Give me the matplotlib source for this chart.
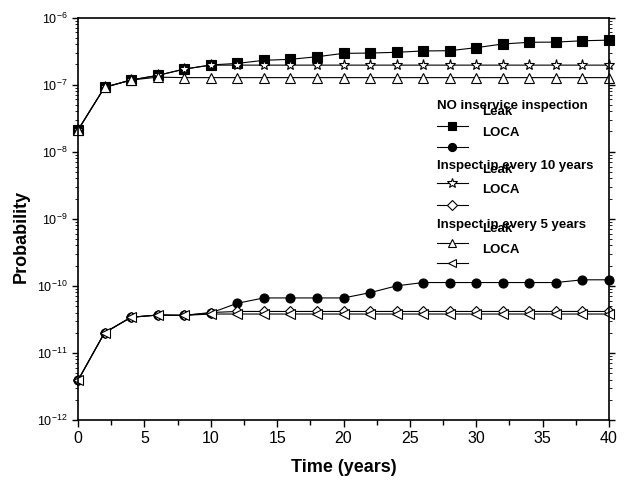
import numpy as np
import matplotlib
matplotlib.use('Agg')
import matplotlib.pyplot as plt
from matplotlib.ticker import LogLocator, NullFormatter, MultipleLocator

plt.rcParams['font.family'] = ['Liberation Sans', 'DejaVu Sans']
plt.rcParams['mathtext.fontset'] = 'custom'
plt.rcParams['mathtext.rm'] = 'Liberation Sans'
plt.rcParams['mathtext.it'] = 'Liberation Sans'

# time axis (years)
years = list(range(0, 41, 2))

# no inservice inspection
leak_none = [2.1e-8, 9.1e-8, 1.17e-7, 1.37e-7, 1.7e-7, 1.96e-7, 2.07e-7, 2.3e-7, 2.38e-7, 2.6e-7,
             2.92e-7, 2.95e-7, 3.03e-7, 3.17e-7, 3.2e-7, 3.55e-7, 4.03e-7, 4.27e-7, 4.3e-7, 4.5e-7, 4.6e-7]
loca_none = [3.9e-12, 2.0e-11, 3.4e-11, 3.67e-11, 3.63e-11, 3.94e-11, 5.5e-11, 6.6e-11, 6.6e-11, 6.6e-11,
             6.6e-11, 7.9e-11, 1.0e-10, 1.12e-10, 1.12e-10, 1.12e-10, 1.12e-10, 1.12e-10, 1.12e-10, 1.23e-10, 1.23e-10]

# inspect every 10 years
leak_10 = [2.1e-8, 9.1e-8, 1.17e-7, 1.37e-7, 1.7e-7, 1.95e-7, 1.95e-7, 1.95e-7, 1.95e-7, 1.95e-7,
           1.95e-7, 1.95e-7, 1.95e-7, 1.95e-7, 1.95e-7, 1.95e-7, 1.95e-7, 1.95e-7, 1.95e-7, 1.95e-7, 1.95e-7]
loca_10 = [3.9e-12, 2.0e-11, 3.4e-11, 3.67e-11, 3.63e-11, 4.0e-11, 4.15e-11, 4.15e-11, 4.15e-11, 4.15e-11,
           4.15e-11, 4.15e-11, 4.15e-11, 4.15e-11, 4.15e-11, 4.15e-11, 4.15e-11, 4.15e-11, 4.15e-11, 4.15e-11, 4.15e-11]

# inspect every 5 years
leak_5 = [2.1e-8, 9.1e-8, 1.17e-7, 1.29e-7, 1.27e-7, 1.27e-7, 1.27e-7, 1.27e-7, 1.27e-7, 1.27e-7,
          1.27e-7, 1.27e-7, 1.27e-7, 1.27e-7, 1.27e-7, 1.27e-7, 1.27e-7, 1.27e-7, 1.27e-7, 1.27e-7, 1.27e-7]
loca_5 = [3.9e-12, 2.0e-11, 3.4e-11, 3.67e-11, 3.63e-11, 3.8e-11, 3.8e-11, 3.8e-11, 3.8e-11, 3.8e-11,
          3.8e-11, 3.8e-11, 3.8e-11, 3.8e-11, 3.8e-11, 3.8e-11, 3.8e-11, 3.8e-11, 3.8e-11, 3.8e-11, 3.8e-11]

groups = ["NO inservice inspection", "Inspect in every 10 years", "Inspect in every 5 years"]
series = [(leak_none, 's', 'black'), (loca_none, 'o', 'black'),
          (leak_10, '*', 'white'), (loca_10, 'D', 'white'),
          (leak_5, '^', 'white'), (loca_5, '<', 'white')]
msizes = {'s': 6.5, 'o': 6.5, '*': 8, 'D': 5.5, '^': 7, '<': 7}

W, H = 628, 484
fig = plt.figure(figsize=(W / 100, H / 100), dpi=100)
ax = fig.add_axes([78 / W, 1 - 420 / H, 531 / W, 402.5 / H])

for vals, mk, fc in series:
    ax.plot(years, vals, '-', color='black', lw=0.8, marker=mk, markersize=msizes[mk],
            markerfacecolor=fc, markeredgecolor='black', markeredgewidth=0.8, clip_on=False)

ax.set_yscale('log')
ax.set_xlim(0, 40)
ax.set_ylim(1e-12, 1e-6)
ax.xaxis.set_major_locator(MultipleLocator(5))
ax.xaxis.set_minor_locator(MultipleLocator(2.5))
ax.yaxis.set_major_locator(LogLocator(base=10, numticks=10))
ax.yaxis.set_minor_locator(LogLocator(base=10, subs=np.arange(2, 10), numticks=10))
ax.yaxis.set_minor_formatter(NullFormatter())

ax.tick_params(axis='x', which='major', labelsize=11.5, direction='out', length=5, width=1, pad=3)
ax.tick_params(axis='x', which='minor', direction='out', length=3.5, width=1)
ax.tick_params(axis='y', which='major', labelsize=9, direction='out', length=4, width=1,
               right=True)
ax.tick_params(axis='y', which='minor', direction='out', length=2.5, width=0.6, right=True)
for sp in ax.spines.values():
    sp.set_linewidth(1.2)

ax.set_xlabel('Time (years)', fontsize=13, fontweight='bold')
ax.set_ylabel('Probability', fontsize=13, fontweight='bold')
ax.xaxis.set_label_coords(0.5, -0.097)
ax.yaxis.set_label_coords(-0.09, 0.455)


def px(x, y):
    return ((x - 78) / 531, (420 - y) / 402.5)


# hand-made legend, laid out like the original
head_y = [106, 166, 225]
leak_y = [112, 170, 229]
loca_y = [133, 190, 250]
samp_y = [(126, 147), (183, 205), (243, 263)]
for g in range(3):
    ax.text(*px(437, head_y[g]), groups[g], transform=ax.transAxes, fontsize=9.5,
            fontweight='bold', va='center', ha='left')
    ax.text(*px(482, leak_y[g]), 'Leak', transform=ax.transAxes, fontsize=9.5,
            fontweight='bold', va='center', ha='left')
    ax.text(*px(482, loca_y[g]), 'LOCA', transform=ax.transAxes, fontsize=9.5,
            fontweight='bold', va='center', ha='left')
    for k in range(2):
        vals, mk, fc = series[2 * g + k]
        x0, y0 = px(437, samp_y[g][k])
        x1, _ = px(468, samp_y[g][k])
        ax.plot([x0, x1], [y0, y0], '-', color='black', lw=0.8, transform=ax.transAxes, clip_on=False)
        ax.plot([(x0 + x1) / 2], [y0], marker=mk, markersize=msizes[mk] * 0.9, markerfacecolor=fc,
                markeredgecolor='black', markeredgewidth=0.8, transform=ax.transAxes, clip_on=False)

fig.savefig('out.png', dpi=100)
